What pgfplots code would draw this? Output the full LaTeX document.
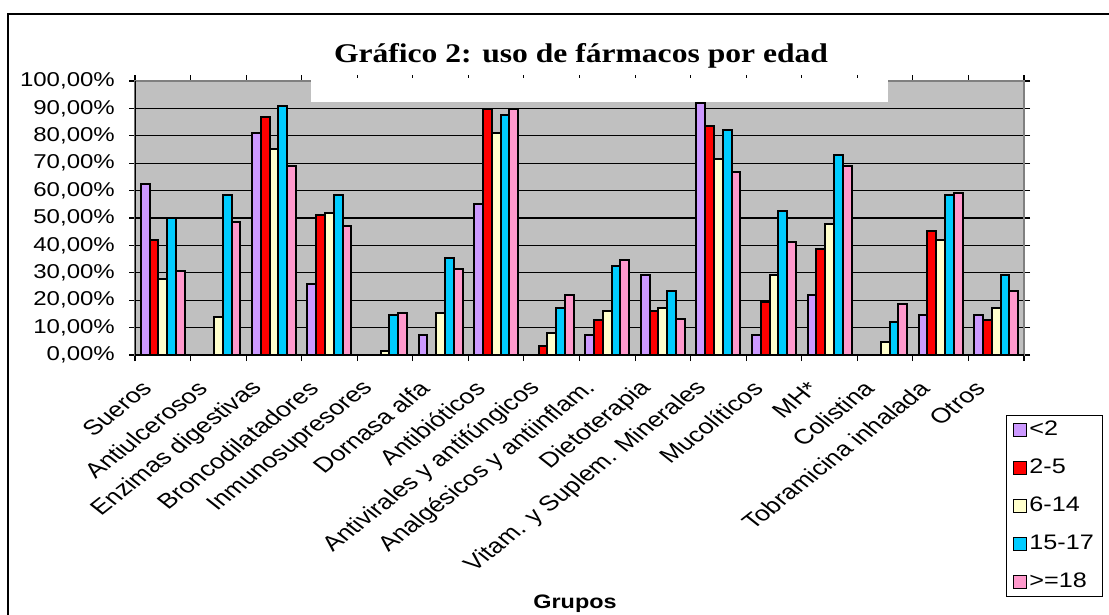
\documentclass[border=0pt]{standalone}
\usepackage{pgfplots}
\pgfplotsset{compat=1.18}
\usepackage{fontspec}
\setmainfont{Liberation Sans}[FakeStretch=1.2]
\newfontfamily\rotfont{Liberation Sans}
\newfontfamily\titlefont{Liberation Serif}[FakeStretch=1.17]
\definecolor{cA}{HTML}{CC99FF}
\definecolor{cB}{HTML}{FF0000}
\definecolor{cC}{HTML}{FFFFCC}
\definecolor{cD}{HTML}{00CCFF}
\definecolor{cE}{HTML}{FF99CC}
\definecolor{bg}{HTML}{C0C0C0}
\definecolor{bd}{HTML}{808080}
\pgfplotsset{mybar/.style={fill=#1, draw=black, line width=2pt,
  legend image code/.code={\draw[fill=#1,draw=black,line width=1pt] (0pt,-6.5pt) rectangle (13pt,6.5pt);}}}
\begin{document}
\begin{tikzpicture}[x=1pt,y=1pt]
\begin{axis}[
  at={(135pt,259pt)}, anchor=south west,
  scale only axis, width=889pt, height=274pt,
  xmin=0, xmax=16, ymin=0, ymax=100,
  ybar=0pt, bar width=8.8pt,
  axis background/.style={fill=bg},
  axis line style={draw=bd, line width=1.2pt},
  ymajorgrids, grid style={black, line width=1.1pt},
  ytick={0,10,...,100},
  yticklabels={{0,00\%},{10,00\%},{20,00\%},{30,00\%},{40,00\%},{50,00\%},{60,00\%},{70,00\%},{80,00\%},{90,00\%},{100,00\%}},
  yticklabel style={font=\fontsize{20}{22}\selectfont, anchor=east, inner sep=0pt, xshift=-14pt},
  tick align=outside, major tick length=6pt,
  tick style={black, line width=1.1pt},
  xtick={0,...,16}, xticklabels={},
  extra x ticks={0.5,1.5,...,15.5},
  extra x tick labels={Sueros,Antiulcerosos,Enzimas digestivas,Broncodilatadores,Inmunosupresores,Dornasa alfa,Antibióticos,Antivirales y antifúngicos,Analgésicos y antiinflam.,Dietoterapia,Vitam. y Suplem. Minerales,Mucolíticos,MH*,Colistina,Tobramicina inhalada,Otros},
  extra x tick style={major tick length=0pt, xticklabel style={font={\fontsize{21}{24}\rotfont}, xshift=-16pt, yshift=-30pt, cm={0.898,0.7071,-0.898,0.7071,(0,0)}, anchor=east, inner sep=0pt}},
  legend style={at={(0.9797,-0.219)}, anchor=north west, draw=black, line width=1pt, fill=white,
    font=\fontsize{21}{24}\selectfont, row sep=15pt, inner xsep=7pt, inner ysep=3pt,
    nodes={inner sep=2pt, text height=15pt, text depth=4pt}},
  legend cell align=left,
]
\addplot[mybar=cA] coordinates {(0.5,62.5) (2.5,81.0) (3.5,25.9) (5.5,7.4) (6.5,55.1) (8.5,7.4) (9.5,29.2) (10.5,92.1) (11.5,7.4) (12.5,21.9) (14.5,14.6) (15.5,14.6)};
\addplot[mybar=cB] coordinates {(0.5,41.8) (2.5,87.0) (3.5,51.0) (6.5,89.8) (7.5,3.4) (8.5,12.7) (9.5,16.1) (10.5,83.6) (11.5,19.2) (12.5,38.6) (14.5,45.3) (15.5,12.7)};
\addplot[mybar=cC] coordinates {(0.5,27.9) (1.5,14.0) (2.5,75.1) (3.5,51.9) (4.5,1.5) (5.5,15.2) (6.5,81.0) (7.5,8.2) (8.5,16.1) (9.5,17.3) (10.5,71.7) (11.5,29.2) (12.5,47.7) (13.5,4.7) (14.5,41.8) (15.5,17.3)};
\addplot[mybar=cD] coordinates {(0.5,49.9) (1.5,58.4) (2.5,90.9) (3.5,58.4) (4.5,14.6) (5.5,35.3) (6.5,87.6) (7.5,17.3) (8.5,32.6) (9.5,23.2) (10.5,82.2) (11.5,52.4) (12.5,73.0) (13.5,12.0) (14.5,58.4) (15.5,29.2)};
\addplot[mybar=cE] coordinates {(0.5,30.5) (1.5,48.5) (2.5,69.1) (3.5,47.1) (4.5,15.2) (5.5,31.3) (6.5,89.8) (7.5,21.9) (8.5,34.5) (9.5,13.3) (10.5,66.9) (11.5,41.1) (12.5,69.1) (13.5,18.6) (14.5,59.1) (15.5,23.2)};
\legend{<2,2-5,6-14,15-17,>=18}
\draw[black, line width=1.2pt] (rel axis cs:0,1) -- (rel axis cs:0,0) -- (rel axis cs:1,0);
\end{axis}
\fill[white] (311,512) rectangle (888,536);
\node[font={\fontsize{27}{30}\titlefont\bfseries}, anchor=base] at (581,551) {Gráfico 2: uso de fármacos por edad};
\node[font={\fontsize{19.5}{22}\selectfont\bfseries}, anchor=base] at (575,6) {Grupos};
\draw[line width=2pt] (8,-20) rectangle (1130,600);
\pgfresetboundingbox
\useasboundingbox (0,0) rectangle (1109,614);
\end{tikzpicture}
\end{document}
